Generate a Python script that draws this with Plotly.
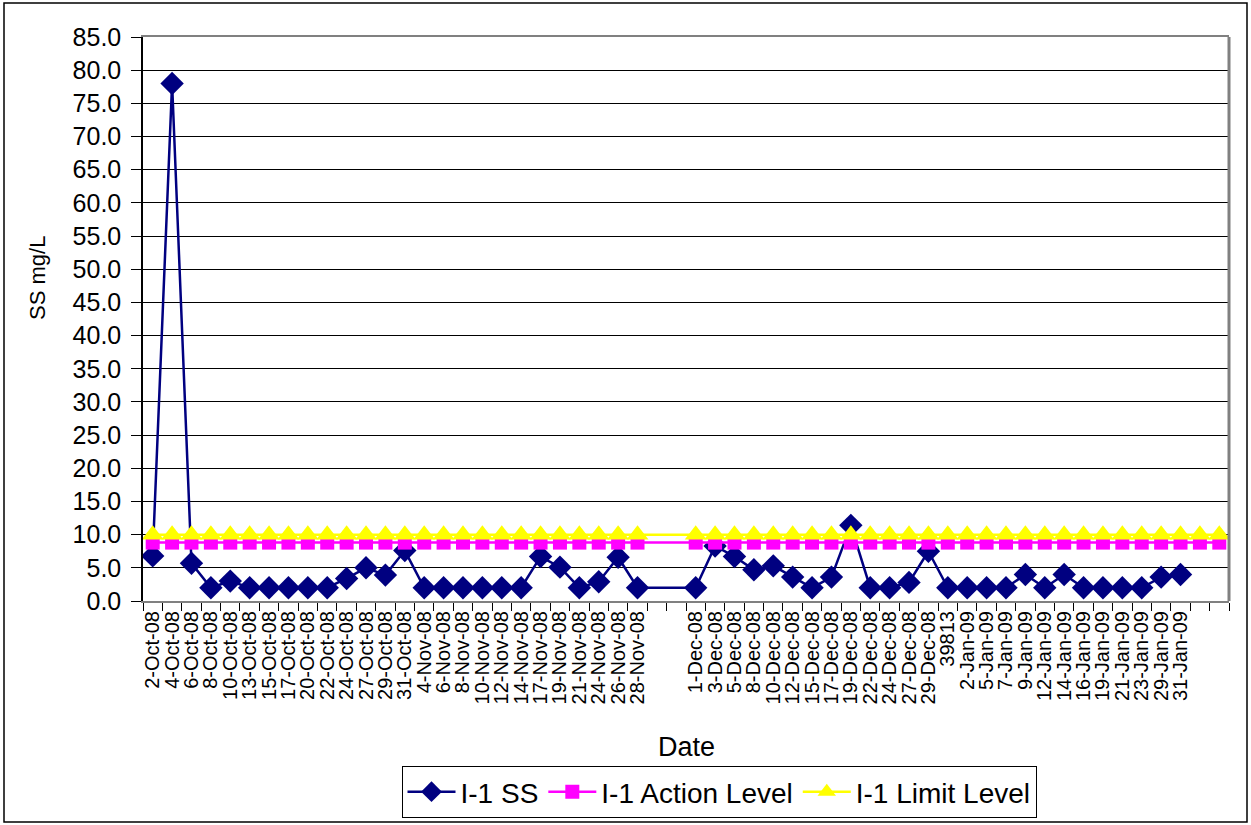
import plotly.graph_objects as go

# Sampling dates (category axis); whitespace entries are empty slots on the axis
dates = [
    "2-Oct-08", "4-Oct-08", "6-Oct-08", "8-Oct-08", "10-Oct-08", "13-Oct-08", "15-Oct-08",
    "17-Oct-08", "20-Oct-08", "22-Oct-08", "24-Oct-08", "27-Oct-08", "29-Oct-08", "31-Oct-08",
    "4-Nov-08", "6-Nov-08", "8-Nov-08", "10-Nov-08", "12-Nov-08", "14-Nov-08", "17-Nov-08",
    "19-Nov-08", "21-Nov-08", "24-Nov-08", "26-Nov-08", "28-Nov-08", " ", "  ",
    "1-Dec-08", "3-Dec-08", "5-Dec-08", "8-Dec-08", "10-Dec-08", "12-Dec-08", "15-Dec-08",
    "17-Dec-08", "19-Dec-08", "22-Dec-08", "24-Dec-08", "27-Dec-08", "29-Dec-08", "39813",
    "2-Jan-09", "5-Jan-09", "7-Jan-09", "9-Jan-09", "12-Jan-09", "14-Jan-09", "16-Jan-09",
    "19-Jan-09", "21-Jan-09", "23-Jan-09", "29-Jan-09", "31-Jan-09", "   ", "    ",
]

# Suspended solids at station I-1 (mg/L)
ss = [
    6.8, 78.0, 5.7, 2.0, 3.0, 2.0, 2.0, 2.0, 2.0, 2.0, 3.4, 5.0, 3.9, 7.6,
    2.0, 2.0, 2.0, 2.0, 2.0, 2.0, 6.7, 5.1, 2.0, 2.9, 6.6, 2.0, None, None,
    2.0, 8.3, 6.7, 4.7, 5.3, 3.6, 2.0, 3.6, 11.4, 2.0, 2.0, 2.8, 7.5, 2.0,
    2.0, 2.0, 2.0, 4.0, 2.0, 4.0, 2.0, 2.0, 2.0, 2.0, 3.6, 4.0, None, None,
]

ACTION_LEVEL = 8.8
LIMIT_LEVEL = 10.0

# No level plotted in the two empty slots after 28-Nov
level_gap = {" ", "  "}
action = [None if d in level_gap else ACTION_LEVEL for d in dates]
limit = [None if d in level_gap else LIMIT_LEVEL for d in dates]

y_ticks = [i * 5 for i in range(18)]

FONT = "Liberation Sans, Arial, sans-serif"

fig = go.Figure()
fig.add_trace(go.Scatter(
    x=dates, y=ss, name="I-1 SS", mode="lines+markers", connectgaps=True,
    line=dict(color="#000080", width=2.5),
    marker=dict(symbol="diamond", size=18, color="#000080"),
))
fig.add_trace(go.Scatter(
    x=dates, y=action, name="I-1 Action Level", mode="lines+markers", connectgaps=True,
    line=dict(color="#FF00FF", width=2.5),
    marker=dict(symbol="square", size=14, color="#FF00FF"),
))
fig.add_trace(go.Scatter(
    x=dates, y=limit, name="I-1 Limit Level", mode="lines+markers", connectgaps=True,
    line=dict(color="#FFFF00", width=2.5),
    marker=dict(symbol="triangle-up", size=19, color="#FFFF00"),
))

L, R, T, B = 143, 1229, 37, 601
W, H = 1251, 825
pw, ph = R - L, B - T

def px(x):
    return (x - L) / pw

def py(y):
    return (B - y) / ph

fig.update_layout(
    width=W, height=H,
    margin=dict(l=L, r=W - R, t=T, b=H - B, pad=0),
    paper_bgcolor="white", plot_bgcolor="white",
    font=dict(family=FONT, color="black"),
    showlegend=True,
    legend=dict(
        orientation="h", xref="container", yref="container",
        x=719 / W, y=1 - 818 / H, xanchor="center", yanchor="bottom",
        bordercolor="black", borderwidth=1, bgcolor="white",
        font=dict(size=28, family=FONT), itemwidth=48, tracegroupgap=0,
    ),
    xaxis=dict(
        type="category", categoryorder="array", categoryarray=dates,
        tickmode="array", tickvals=dates, ticktext=dates,
        range=[-0.5, len(dates) - 0.5],
        tickson="boundaries", ticks="outside", ticklen=8, tickcolor="black", tickwidth=1,
        tickangle=-90, tickfont=dict(size=20, family=FONT),
        showline=True, linecolor="#808080", linewidth=2, mirror=True,
        showgrid=False, zeroline=False, automargin=False,
    ),
    yaxis=dict(
        range=[0, 85], tickvals=y_ticks, tickformat=".1f",
        ticks="outside", ticklen=10, tickcolor="black", tickwidth=1,
        tickfont=dict(size=25, family=FONT), ticklabelstandoff=5,
        showline=True, linecolor="black", linewidth=1.5,
        showgrid=True, gridcolor="black", gridwidth=1, zeroline=False, automargin=False,
    ),
    annotations=[
        dict(text="Date", xref="paper", yref="paper", x=px(686), y=py(747),
             xanchor="center", yanchor="middle", showarrow=False,
             font=dict(size=27, family=FONT)),
        dict(text="SS mg/L", xref="paper", yref="paper", x=px(37), y=py(278),
             xanchor="center", yanchor="middle", showarrow=False, textangle=-90,
             font=dict(size=22, family=FONT)),
    ],
    shapes=[
        # plot-area right border
        dict(type="line", xref="paper", yref="paper", x0=1, x1=1, y0=0, y1=1,
             line=dict(color="#808080", width=3)),
        # chart-area border
        dict(type="rect", xref="paper", yref="paper",
             x0=px(4), x1=px(1247), y0=py(822), y1=py(3),
             line=dict(color="black", width=1.5), layer="below"),
    ],
)

fig.write_html("out.html")
